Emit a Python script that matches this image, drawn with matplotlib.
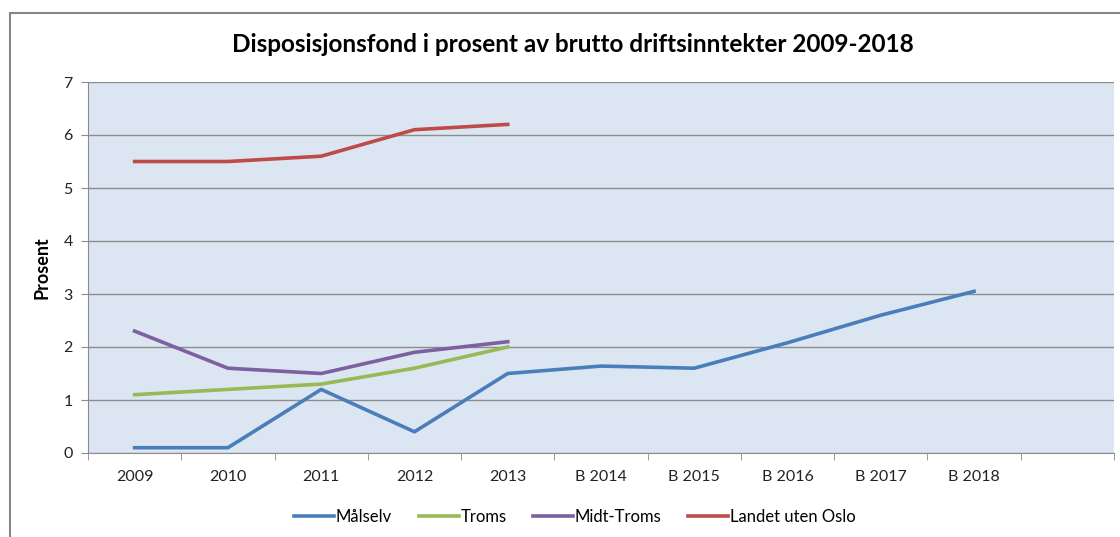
import matplotlib.pyplot as plt
from matplotlib.patches import Rectangle

plt.rcParams['font.family'] = ['Lato', 'DejaVu Sans']

categories = ['2009', '2010', '2011', '2012', '2013',
              'B 2014', 'B 2015', 'B 2016', 'B 2017', 'B 2018']
malselv = [0.1, 0.1, 1.2, 0.4, 1.5, 1.64, 1.6, 2.08, 2.6, 3.05]
troms = [1.1, 1.2, 1.3, 1.6, 2.0]
midt_troms = [2.3, 1.6, 1.5, 1.9, 2.1]
landet = [5.5, 5.5, 5.6, 6.1, 6.2]

fig = plt.figure(figsize=(11.2, 5.37), dpi=100)
ax = fig.add_axes([88 / 1120, 1 - 453 / 537, (1114 - 88) / 1120, (453 - 82) / 537])

# outer chart border
fig.patches.append(Rectangle((10 / 1120, -0.1), 1.2, 1 - 13 / 537 + 0.1,
                             transform=fig.transFigure, fill=False,
                             edgecolor='#868686', linewidth=1.5))

ax.set_facecolor('#DCE6F2')
x = range(len(categories))
lw = 2.6
ax.plot(x, malselv, color='#4A7EBB', linewidth=lw, label='Målselv')
ax.plot(x[:5], troms, color='#98B954', linewidth=lw, label='Troms')
ax.plot(x[:5], midt_troms, color='#7D60A0', linewidth=lw, label='Midt-Troms')
ax.plot(x[:5], landet, color='#BE4B48', linewidth=lw, label='Landet uten Oslo')

ax.set_xlim(-0.5, 10.5)
ax.set_ylim(0, 7)
ax.set_yticks(range(0, 8))
ax.grid(axis='y', color='#8C8C8C', linewidth=1)
ax.set_axisbelow(True)

ax.set_xticks(list(x))
ax.set_xticklabels(categories)
ax.set_xticks([i - 0.5 for i in range(12)], minor=True)
ax.tick_params(axis='x', which='major', length=0, pad=12, labelsize=11.5, colors='#222222')
ax.tick_params(axis='x', which='minor', length=5, color='#8C8C8C')
ax.tick_params(axis='y', length=5, color='#8C8C8C', labelsize=11.5, pad=6, colors='#222222')

for s in ['top', 'right']:
    ax.spines[s].set_visible(False)
for s in ['left', 'bottom']:
    ax.spines[s].set_color('#8C8C8C')

ax.set_ylabel('Prosent', fontsize=13, fontweight='bold', labelpad=9)
fig.text(573 / 1120, 1 - 44 / 537, 'Disposisjonsfond i prosent av brutto driftsinntekter 2009-2018',
         ha='center', va='center', fontsize=17.5, fontweight='bold')

fig.legend(loc='center', bbox_to_anchor=(575 / 1120, 1 - 517 / 537), ncol=4,
           frameon=False, fontsize=12, handlelength=2.4, handletextpad=0.1,
           columnspacing=1.6)

fig.savefig('out.png', dpi=100)
